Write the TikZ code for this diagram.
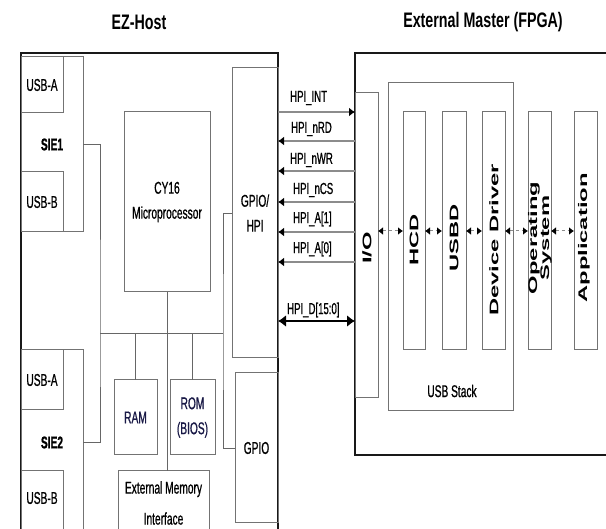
\documentclass[tikz,border=0pt]{standalone}
\usepackage{xcolor}
\usepackage{fontspec}
\setmainfont{Liberation Sans}
\newfontfamily\narrowfont[FakeStretch=0.6,FakeBold=0.8]{Liberation Sans}
\newfontfamily\headfont[FakeStretch=0.68]{Liberation Sans}
\newfontfamily\wideFont[FakeStretch=1.9]{Liberation Sans}
\usetikzlibrary{arrows.meta}
\definecolor{memtext}{RGB}{25,25,70}
\tikzset{
    box/.style={draw=black!55, line width=1pt, inner sep=0pt, outer sep=0pt, font=\narrowfont\fontsize{17}{25}\selectfont, align=center},
    frame/.style={draw=black!90, line width=1.4pt, inner sep=0pt, outer sep=0pt},
    headline/.style={font=\headfont\bfseries\fontsize{21}{24}\selectfont},
    lbl/.style={font=\narrowfont\fontsize{17}{25}\selectfont, align=center, inner sep=0pt},
    vlbl/.style={rotate=90, font=\wideFont\bfseries\fontsize{12.5}{12}\selectfont, align=center, inner sep=0pt},
    sigtxt/.style={font=\narrowfont\fontsize{16}{18}\selectfont, anchor=west, inner sep=0pt},
    sig/.style={draw=black!45, line width=2pt},
    sigout/.style={sig, -{Latex[color=black,length=6pt,width=9pt]}},
    sigin/.style={sig, {Latex[color=black,length=6pt,width=9pt]}-},
    databus/.style={draw=black, line width=2.5pt, {Latex[length=8pt,width=12pt]}-{Latex[length=8pt,width=12pt]}},
    bus/.style={draw=black!60, line width=0.8pt},
    link/.style={draw=black!45, line width=1pt, dashed, {Latex[color=black,length=5pt,width=8pt]}-{Latex[color=black,length=5pt,width=8pt]}},
}
\begin{document}
\begin{tikzpicture}[x=1pt, y=-1pt]
    \useasboundingbox (0,0) rectangle (606,529);

    % EZ-Host
    \node[headline] (ezname) at (139,22) {EZ-Host};
    \node[frame, minimum width=257, minimum height=482] (ezhost) at (149.5,294) {};
    \node[box, minimum width=62, minimum height=175] (sie1) at (52,144.5) {\bfseries SIE1};
    \node[box, minimum width=42, minimum height=56] (usba1) at (42,85) {USB-A};
    \node[box, minimum width=42, minimum height=60] (usbb1) at (42,202) {USB-B};
    \node[box, minimum width=62, minimum height=185] (sie2) at (52,442.5) {\bfseries SIE2};
    \node[box, minimum width=42, minimum height=60] (usba2) at (42,380) {USB-A};
    \node[box, minimum width=42, minimum height=64] (usbb2) at (42,503) {};
    \node[lbl] (usbb2txt) at (42,498) {USB-B};
    \node[box, minimum width=86, minimum height=180] (cpu) at (167,202) {CY16\\Microprocessor};
    \node[box, minimum width=43, minimum height=75, text=memtext] (ram) at (135.5,417.5) {RAM};
    \node[box, minimum width=45, minimum height=75, text=memtext] (rom) at (192.5,417.5) {ROM\\(BIOS)};
    \node[box, minimum width=91, minimum height=64] (emi) at (163.5,503) {External Memory\\[6pt]Interface};
    \node[box, minimum width=46, minimum height=290] (hpi) at (255,213) {GPIO/\\HPI};
    \node[box, minimum width=43, minimum height=150] (gpio) at (256.5,448) {GPIO};

    \coordinate (busl) at (100,333);
    \coordinate (busr) at (223,333);
    \draw[bus] (sie1.east) -| (busl) |- (sie2.east);
    \draw[bus] (busl) -- (busr);
    \draw[bus] (cpu.south) -- (cpu.south |- emi.north);
    \draw[bus] (ram.north) -- (ram.north |- busl);
    \draw[bus] (rom.north) -- (rom.north |- busl);
    \draw[bus] (hpi.west) -| (busr) |- (gpio.west);

    % External master
    \node[headline] (fpganame) at (483,22) {External Master (FPGA)};
    \node[frame, minimum width=270, minimum height=402] (master) at (490,254) {};
    \node[box, minimum width=23, minimum height=305] (io) at (366.5,245.5) {};
    \node[vlbl] (iotxt) at (367,248) {I/O};
    \node[box, minimum width=125, minimum height=328] (stack) at (450.5,247) {};
    \node[lbl] (stacktxt) at (452,391) {USB Stack};
    \node[box, minimum width=22, minimum height=238] (hcd) at (414,231) {};
    \node[box, minimum width=24, minimum height=238] (usbd) at (454,231) {};
    \node[box, minimum width=23, minimum height=238] (ddrv) at (493.5,231) {};
    \node[box, minimum width=23, minimum height=238] (opsys) at (539.5,231) {};
    \node[box, minimum width=23, minimum height=238] (appl) at (585.5,231) {};
    \node[vlbl] (hcdtxt) at (414,240) {HCD};
    \node[vlbl] (usbdtxt) at (454,238) {USBD};
    \node[vlbl] (ddrvtxt) at (494,240) {Device Driver};
    \node[vlbl] (opsystxt) at (540,238) {Operating\\System};
    \node[vlbl] (appltxt) at (584,238) {Application};

    \draw[link] (io.east |- hcd.west) -- (hcd.west);
    \draw[link] (hcd.east) -- (usbd.west);
    \draw[link] (usbd.east) -- (ddrv.west);
    \draw[link] (ddrv.east) -- (opsys.west);
    \draw[link] (opsys.east) -- (appl.west);

    % HPI signals
    \coordinate (yint) at (0,112);
    \coordinate (yrd) at (0,141);
    \coordinate (ywr) at (0,171);
    \coordinate (ycs) at (0,202);
    \coordinate (ya1) at (0,232);
    \coordinate (ya0) at (0,262);
    \coordinate (yd) at (0,321);
    \draw[sigout] (hpi.east |- yint) -- (io.west |- yint);
    \draw[sigin] (hpi.east |- yrd) -- (io.west |- yrd);
    \draw[sigin] (hpi.east |- ywr) -- (io.west |- ywr);
    \draw[sigin] (hpi.east |- ycs) -- (io.west |- ycs);
    \draw[sigin] (hpi.east |- ya1) -- (io.west |- ya1);
    \draw[sigin] (hpi.east |- ya0) -- (io.west |- ya0);
    \draw[databus] (hpi.east |- yd) -- (io.west |- yd);
    \node[sigtxt] (tint) at (290,98) {HPI\_INT};
    \node[sigtxt] (trd) at (291,129) {HPI\_nRD};
    \node[sigtxt] (twr) at (290,160) {HPI\_nWR};
    \node[sigtxt] (tcs) at (293,190) {HPI\_nCS};
    \node[sigtxt] (ta1) at (293,219) {HPI\_A[1]};
    \node[sigtxt] (ta0) at (293,249) {HPI\_A[0]};
    \node[sigtxt] (td) at (287,310) {HPI\_D[15:0]};
\end{tikzpicture}
\end{document}
